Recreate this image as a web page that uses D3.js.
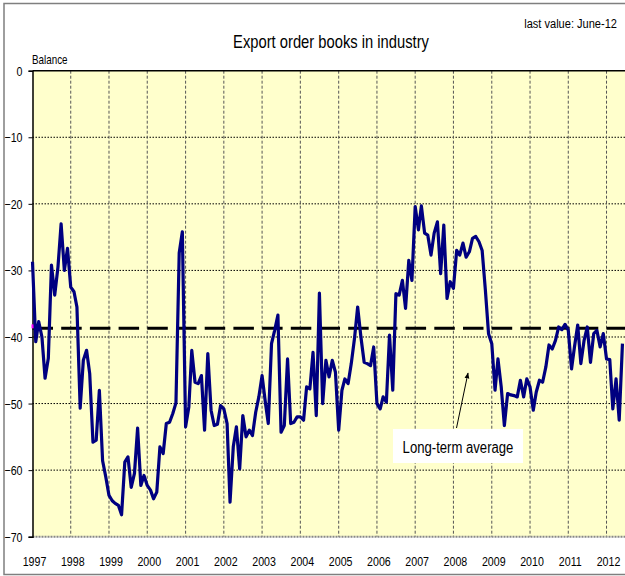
<!DOCTYPE html>
<html>
<head>
<meta charset="utf-8">
<script src="https://cdn.jsdelivr.net/npm/d3@7"></script>
<style>
  body { margin: 0; background: #fff; }
  svg text { font-family: "Liberation Sans", Arial, sans-serif; fill: #000; }
</style>
</head>
<body>
<div id="chart"></div>
<script>
const width = 625;
const height = 576;

// monthly balance, Jan 1997 .. Jun 2012
const startDate = new Date(1997, 0, 1);
const balance = [
  -28.7, -40.7, -37.7, -40, -46.2, -43.2, -29.2, -33.7, -29.5, -23, -30, -26.7,       // 1997
  -32.5, -33.2, -35.5, -50.7, -43.5, -42, -45.5, -55.8, -55.5, -48, -58.6, -61,       // 1998
  -63.8, -64.6, -65, -65.3, -66.7, -58.8, -58, -62.6, -60.5, -53.7, -62.3, -60.8,     // 1999
  -62.3, -63, -64.3, -63.3, -56.5, -57.5, -53, -52.8, -51.5, -49.9, -27.4, -24.2,     // 2000
  -53.5, -50.5, -42, -46.8, -47, -45.8, -54, -42.5, -51, -53.3, -53.1, -50.3,         // 2001
  -50.8, -53, -64.8, -56.5, -53.5, -59.8, -51.8, -55, -54, -54.8, -51.3, -49,         // 2002
  -45.8, -49.8, -53, -41, -39, -36.7, -54.3, -53.3, -43.3, -53, -52.8, -52,           // 2003
  -52, -52.5, -47.5, -47.8, -42.3, -51.8, -33.4, -50, -43.5, -46, -43.5, -45.3,       // 2004
  -54, -48, -46.3, -47, -44, -40.2, -35.5, -40, -43.8, -44, -44.3, -41.5,             // 2005
  -50, -50.8, -49, -49.8, -39.7, -48, -33.5, -33.7, -31.5, -35.7, -28.5, -31.5,       // 2006
  -20.4, -23.9, -20.3, -24.4, -24.7, -27.7, -24.4, -22.7, -30.5, -23.2, -34.2, -31.7, // 2007
  -32.7, -27, -27.7, -25.9, -28, -27.2, -25.2, -24.9, -25.7, -27, -33, -39.5,         // 2008
  -41, -48, -43.3, -47.5, -53.3, -48.5, -48.7, -48.8, -49, -46.5, -49, -46.3,         // 2009
  -47.5, -51, -48.3, -46.5, -46.8, -44.5, -41.2, -41.8, -40.5, -38.5, -38.9, -38.1,   // 2010
  -39, -44.8, -41.5, -38.2, -44, -40.5, -38.5, -43.8, -39.5, -39, -41.5, -39.5,       // 2011
  -43.3, -43.4, -50.8, -46.3, -52.5, -41                                              // 2012
];

const longTermAverage = -38.7;
const yTicks = [0, -10, -20, -30, -40, -50, -60, -70];
const yearTicks = d3.range(1997, 2013);

const data = balance.map((v, i) => ({ date: d3.timeMonth.offset(startDate, i), value: v }));

// squeeze text horizontally to look like a narrow font
const squeeze = 0.82;
function narrow(sel) {
  sel.each(function() {
    const t = d3.select(this);
    const tx = +t.attr("x") || 0;
    const ty = +t.attr("y") || 0;
    t.attr("x", 0).attr("y", 0)
      .attr("transform", `translate(${tx},${ty}) scale(${squeeze},1)`);
  });
}

const svg = d3.select("#chart")
  .append("svg")
  .attr("width", width)
  .attr("height", height);

// outer frame
svg.append("rect")
  .attr("x", 4).attr("y", 3.5)
  .attr("width", 660).attr("height", 571)
  .attr("fill", "none")
  .attr("stroke", "#7f7f7f")
  .attr("stroke-width", 1.5);

const plot = { left: 32.5, right: 625.6, top: 70.7, bottom: 536.7 };

const x = d3.scaleTime()
  .domain([startDate, new Date(2012, 6, 1)])
  .range([plot.left, plot.right]);

const y = d3.scaleLinear()
  .domain([-70, 0])
  .range([plot.bottom, plot.top]);

// plot background
svg.append("rect")
  .attr("x", plot.left).attr("y", plot.top)
  .attr("width", plot.right - plot.left)
  .attr("height", plot.bottom - plot.top)
  .attr("fill", "#ffffcc");

// horizontal grid
svg.append("g")
  .selectAll("line")
  .data(yTicks.filter(d => d < 0 && d > -70))
  .join("line")
  .attr("x1", plot.left).attr("x2", plot.right)
  .attr("y1", d => y(d)).attr("y2", d => y(d))
  .attr("stroke", "#000")
  .attr("stroke-width", 1)
  .attr("stroke-dasharray", "1.5,1.5");

// vertical grid (years)
svg.append("g")
  .selectAll("line")
  .data(yearTicks.filter(d => d > 1997))
  .join("line")
  .attr("x1", d => x(new Date(d, 0, 1))).attr("x2", d => x(new Date(d, 0, 1)))
  .attr("y1", plot.top).attr("y2", plot.bottom)
  .attr("stroke", "#555")
  .attr("stroke-width", 1)
  .attr("stroke-dasharray", "3,2");

// bottom axis line
svg.append("line")
  .attr("x1", plot.left).attr("x2", plot.right)
  .attr("y1", plot.bottom).attr("y2", plot.bottom)
  .attr("stroke", "#888")
  .attr("stroke-width", 2)
  .attr("stroke-dasharray", "2,1");

// top border
svg.append("line")
  .attr("x1", plot.left).attr("x2", plot.right)
  .attr("y1", plot.top).attr("y2", plot.top)
  .attr("stroke", "#000")
  .attr("stroke-width", 1.5);

// y axis
const yAxis = svg.append("g")
  .attr("transform", `translate(${plot.left},0)`)
  .call(d3.axisLeft(y).tickValues(yTicks).tickSize(4).tickPadding(6));
yAxis.select(".domain").attr("stroke", "#000").attr("stroke-width", 1.5);
yAxis.selectAll(".tick line").attr("stroke", "#000");
yAxis.selectAll("text")
  .attr("font-size", 13)
  .attr("font-family", null)
  .attr("dy", null)
  .attr("y", 4.5)
  .call(narrow);

// x labels
svg.append("g")
  .selectAll("text")
  .data(yearTicks)
  .join("text")
  .attr("x", d => x(new Date(d, 0, 1)) + 2)
  .attr("y", 566)
  .attr("text-anchor", "middle")
  .attr("font-size", 13)
  .text(d => d)
  .call(narrow);

// long-term average
svg.append("line")
  .attr("x1", plot.left).attr("x2", plot.right)
  .attr("y1", y(longTermAverage)).attr("y2", y(longTermAverage))
  .attr("stroke", "#000")
  .attr("stroke-width", 3)
  .attr("stroke-dasharray", "20.5,8.2");

svg.append("rect")
  .attr("x", plot.left - 1).attr("y", y(longTermAverage) - 4)
  .attr("width", 4).attr("height", 4)
  .attr("fill", "#ff00ff");

// series line
const line = d3.line()
  .x(d => x(d.date))
  .y(d => y(d.value));

svg.append("path")
  .datum(data)
  .attr("fill", "none")
  .attr("stroke", "#000080")
  .attr("stroke-width", 3.2)
  .attr("stroke-linejoin", "round")
  .attr("d", line);

// annotation
svg.append("defs").append("marker")
  .attr("id", "arrow")
  .attr("viewBox", "0 0 10 10")
  .attr("refX", 9).attr("refY", 5)
  .attr("markerWidth", 6).attr("markerHeight", 6)
  .attr("orient", "auto")
  .append("path")
  .attr("d", "M0,1 L10,5 L0,9 Z")
  .attr("fill", "#000");

svg.append("line")
  .attr("x1", 456.5).attr("y1", 428)
  .attr("x2", 468).attr("y2", 373)
  .attr("stroke", "#000")
  .attr("stroke-width", 1)
  .attr("marker-end", "url(#arrow)");

svg.append("rect")
  .attr("x", 393).attr("y", 429)
  .attr("width", 130).attr("height", 34)
  .attr("fill", "#fff");

svg.append("text")
  .attr("x", 458).attr("y", 453)
  .attr("text-anchor", "middle")
  .attr("font-size", 16)
  .text("Long-term average")
  .call(narrow);

// titles
svg.append("text")
  .attr("x", 331).attr("y", 48)
  .attr("text-anchor", "middle")
  .attr("font-size", 18)
  .text("Export order books in industry")
  .call(narrow);

svg.append("text")
  .attr("x", 617).attr("y", 28)
  .attr("text-anchor", "end")
  .attr("font-size", 13.5)
  .text("last value: June-12")
  .call(narrow);

svg.append("text")
  .attr("x", 32).attr("y", 64)
  .attr("font-size", 12)
  .text("Balance")
  .call(narrow);
</script>
</body>
</html>
